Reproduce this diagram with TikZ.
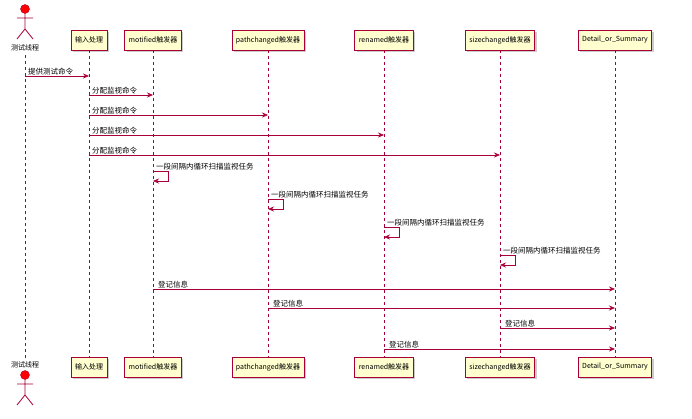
\documentclass[tikz,border=0pt]{standalone}
\usepackage{fontspec}
\setmainfont{Noto Sans CJK SC}
\usetikzlibrary{arrows.meta,shadows,calc}
\definecolor{pr}{HTML}{A80036}
\definecolor{pf}{HTML}{FEFECE}
\begin{document}
\begin{tikzpicture}[x=1pt,y=-1pt,
  part/.style={draw=pr,fill=pf,line width=0.8pt,minimum height=20pt,inner xsep=4pt,font=\fontsize{7}{8}\selectfont,drop shadow={shadow xshift=2pt,shadow yshift=-2pt,opacity=0.4}},
  life/.style={pr,line width=0.5pt,dash pattern=on 3pt off 3pt},
  msg/.style={pr,line width=0.6pt,-{Stealth[length=6pt,width=5pt]}},
  lbl/.style={font=\fontsize{7.5}{8}\selectfont,anchor=south west,inner sep=1pt},
  actlbl/.style={font=\fontsize{7}{8}\selectfont}]
\useasboundingbox (0,0) rectangle (692,418);
\newcommand\actorfig[2]{%
  \fill[red,draw=pr] (#1,#2) circle (4.5);
  \draw[pr,line width=0.8pt] (#1,#2+4.5) -- (#1,#2+20) (#1-8,#2+9) -- (#1+8,#2+9)
    (#1-8,#2+30) -- (#1,#2+20) -- (#1+8,#2+30);}
\actorfig{25}{9}
\node[actlbl] (a) at (25,48) {测试线程};
\actorfig{25}{375}
\node[actlbl] (ab) at (25,365) {测试线程};
\foreach \n/\x/\t in {b/89/输入处理,c/153/motified触发器,d/268/pathchanged触发器,e/384/renamed触发器,f/500/sizechanged触发器,g/615/Detail\_or\_Summary}{
  \node[part] (\n) at (\x,40) {\t};
  \node[part] (\n b) at (\x,367) {\t};
  \draw[life] (\n.south) -- (\n b.north);
}
\draw[life] (a.south) -- (ab.north);
\draw[msg] (a |- 0,76) -- (b |- 0,76);
\node[lbl] at (27,76) {提供测试命令};
\foreach \n/\y in {c/95,d/115,e/135,f/155}{
  \draw[msg] (b |- 0,\y) -- (\n |- 0,\y);
  \node[lbl] at (91,\y) {分配监视命令};
}
\foreach \n/\y in {c/171,d/199,e/227,f/255}{
  \draw[msg] (\n |- 0,\y) -- ++(15,0) -- ++(0,10) -- ++(-15,0);
  \node[lbl] at ($(\n |- 0,\y)+(2,0)$) {一段间隔内循环扫描监视任务};
}
\foreach \n/\y in {c/289,d/308,f/328,e/349}{
  \draw[msg] (\n |- 0,\y) -- (g |- 0,\y);
  \node[lbl] at ($(\n |- 0,\y)+(4,0)$) {登记信息};
}
\end{tikzpicture}
\end{document}
